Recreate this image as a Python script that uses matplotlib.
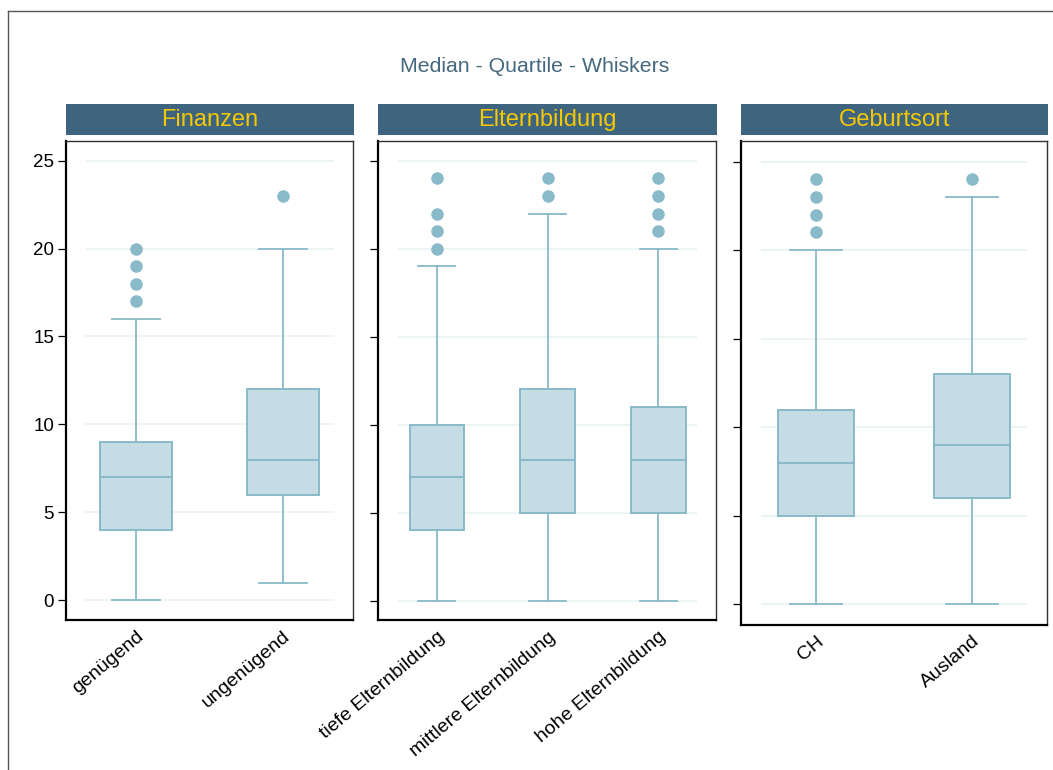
import matplotlib
matplotlib.use("Agg")
import matplotlib.pyplot as plt
from matplotlib.patches import Rectangle
from matplotlib.lines import Line2D

plt.rcParams["font.family"] = ["Liberation Sans", "DejaVu Sans"]

# data: boxplot stats
panel_titles = ["Finanzen", "Elternbildung", "Geburtsort"]
labels_fin = ["genügend", "ungenügend"]
labels_elt = ["tiefe Elternbildung", "mittlere Elternbildung", "hohe Elternbildung"]
labels_geb = ["CH", "Ausland"]

q1_fin = [4, 6]
med_fin = [7, 8]
q3_fin = [9, 12]
wlo_fin = [0, 1]
whi_fin = [16, 20]
out_fin = [[17, 18, 19, 20], [23]]

q1_elt = [4, 5, 5]
med_elt = [7, 8, 8]
q3_elt = [10, 12, 11]
wlo_elt = [0, 0, 0]
whi_elt = [19, 22, 20]
out_elt = [[20, 21, 22, 24], [23, 24], [21, 22, 23, 24]]

q1_geb = [5, 6]
med_geb = [8, 9]
q3_geb = [11, 13]
wlo_geb = [0, 0]
whi_geb = [20, 23]
out_geb = [[21, 22, 23, 24], [24]]

yticks = [0, 5, 10, 15, 20, 25]

BOX_FILL = "#c4dce3"
BOX_EDGE = "#89bac9"
GRID = "#eaf2f5"
STRIP = "#3e6480"
STRIP_TXT = "#f5c800"
TITLE_C = "#46687f"

W, H = 1053, 770
fig = plt.figure(figsize=(W / 100, H / 100), dpi=100)

# axes boxes in pixels: x0, x1, y_top, y_bottom
boxes_px = [(66, 353, 141, 619.5), (378, 716, 141, 620), (741, 1047, 141, 624.5)]
panels = [
    (labels_fin, q1_fin, med_fin, q3_fin, wlo_fin, whi_fin, out_fin),
    (labels_elt, q1_elt, med_elt, q3_elt, wlo_elt, whi_elt, out_elt),
    (labels_geb, q1_geb, med_geb, q3_geb, wlo_geb, whi_geb, out_geb),
]
ylims = [(-1.1, 26.12), (-1.1, 26.12), (-1.13, 26.16)]

for i, ((x0, x1, yt, yb), data, title) in enumerate(zip(boxes_px, panels, panel_titles)):
    labels, q1, med, q3, wlo, whi, outl = data
    ax = fig.add_axes([x0 / W, (H - yb) / H, (x1 - x0) / W, (yb - yt) / H])
    n = len(labels)
    stats = []
    for k in range(n):
        stats.append(dict(label=labels[k], q1=q1[k], med=med[k], q3=q3[k],
                          whislo=wlo[k], whishi=whi[k], fliers=outl[k]))
    ax.hlines(yticks, -0.35, n - 1 + 0.35, color=GRID, lw=1.2, zorder=0)
    ax.bxp(stats, positions=range(n), widths=0.49, patch_artist=True,
           boxprops=dict(facecolor=BOX_FILL, edgecolor=BOX_EDGE, linewidth=1.4),
           medianprops=dict(color=BOX_EDGE, linewidth=1.4),
           whiskerprops=dict(color=BOX_EDGE, linewidth=1.3),
           capprops=dict(color=BOX_EDGE, linewidth=1.3),
           capwidths=0.33,
           flierprops=dict(marker="o", markerfacecolor=BOX_EDGE,
                           markeredgecolor=BOX_EDGE, markersize=8))
    ax.set_xlim(-0.48 - 0.05 * (n == 3), n - 1 + 0.48 + 0.04 * (n == 3))
    ax.set_ylim(*ylims[i])
    ax.set_yticks(yticks)
    if i > 0:
        ax.set_yticklabels([])
    ax.set_xticks(range(n))
    ax.set_xticklabels(labels, rotation=40, ha="right", rotation_mode="anchor",
                       fontsize=14)
    ax.tick_params(axis="x", length=0, pad=6)
    ax.tick_params(axis="y", length=5.5, width=0.9, labelsize=13.5, pad=3)
    for side in ("left", "bottom"):
        ax.spines[side].set_linewidth(1.6)
        ax.spines[side].set_color("black")
    for side in ("top", "right"):
        ax.spines[side].set_linewidth(1.0)
        ax.spines[side].set_color("#333333")

    # header strip
    sx1 = x1 + 1
    fig.add_artist(Rectangle((x0 / W, (H - 134.5) / H), (sx1 - x0) / W, 30.5 / H,
                             transform=fig.transFigure, facecolor=STRIP,
                             edgecolor="none"))
    fig.text((x0 + sx1) / 2 / W, (H - 120) / H, title, color=STRIP_TXT,
             fontsize=17, ha="center", va="center")

fig.text(535 / W, (H - 66) / H, "Median - Quartile - Whiskers", color=TITLE_C,
         fontsize=15.3, ha="center", va="center")

# outer frame (left and top edges)
fig.add_artist(Line2D([8 / W, 8 / W], [0, (H - 11) / H], transform=fig.transFigure,
                      color="#555555", lw=1.0))
fig.add_artist(Line2D([8 / W, 1], [(H - 11) / H, (H - 11) / H],
                      transform=fig.transFigure, color="#555555", lw=1.0))

fig.savefig("out.png", dpi=100)
